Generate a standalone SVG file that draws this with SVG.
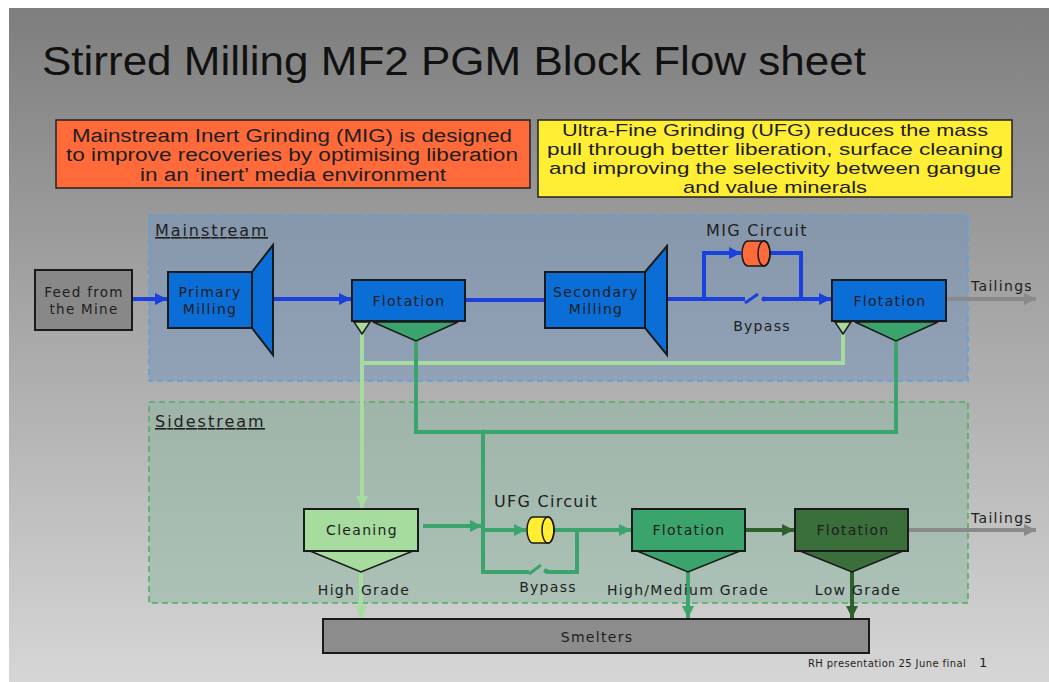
<svg xmlns="http://www.w3.org/2000/svg" width="1049" height="682" viewBox="0 0 1049 682">
<defs>
<linearGradient id="bg" x1="0" y1="0" x2="0" y2="1">
<stop offset="0" stop-color="#7e7e7e"/>
<stop offset="1" stop-color="#d6d6d6"/>
</linearGradient>
<marker id="aBlue" markerUnits="userSpaceOnUse" markerWidth="12" markerHeight="12" refX="12" refY="6" orient="auto"><path d="M0,0 L12,6 L0,12 z" fill="#1a40dd"/></marker>
<marker id="aGreen" markerUnits="userSpaceOnUse" markerWidth="12" markerHeight="12" refX="12" refY="6" orient="auto"><path d="M0,0 L12,6 L0,12 z" fill="#3aa46c"/></marker>
<marker id="aLight" markerUnits="userSpaceOnUse" markerWidth="12" markerHeight="12" refX="12" refY="6" orient="auto"><path d="M0,0 L12,6 L0,12 z" fill="#a6dc9e"/></marker>
<marker id="aDark" markerUnits="userSpaceOnUse" markerWidth="12" markerHeight="12" refX="12" refY="6" orient="auto"><path d="M0,0 L12,6 L0,12 z" fill="#2e602e"/></marker>
<marker id="aGray" markerUnits="userSpaceOnUse" markerWidth="12" markerHeight="12" refX="12" refY="6" orient="auto"><path d="M0,0 L12,6 L0,12 z" fill="#8a8a8a"/></marker>
</defs>
<style>
.t{font-family:"DejaVu Sans","Liberation Sans",sans-serif;fill:#1e1e1e;letter-spacing:1.3px;}
.c{text-anchor:middle;}
.n{font-size:14px;}
.box{stroke:#1a1a1a;stroke-width:2;}
.tri{stroke:#1a1a1a;stroke-width:1.5;}
.blue{fill:#0b6dd6;}
.fl{fill:none;stroke-width:4;}
.b{stroke:#1a40dd;}
.g{stroke:#3aa46c;}
.lg{stroke:#a6dc9e;}
.dg{stroke:#2e602e;}
.gr{stroke:#8a8a8a;}
.bt{font-family:"Liberation Sans",sans-serif;fill:#1e1e1e;text-anchor:middle;}
</style>
<rect x="9" y="8" width="1040" height="674" fill="url(#bg)"/>
<text x="42" y="75" font-family="Liberation Sans, sans-serif" font-size="40" fill="#111" textLength="824" lengthAdjust="spacingAndGlyphs">Stirred Milling MF2 PGM Block Flow sheet</text>

<g id="note-mig">
<rect x="56" y="120" width="474" height="68" fill="#ff6a3a" stroke="#222" stroke-width="1.5"/>
<text class="bt" font-size="18"><tspan x="292" y="142" textLength="440" lengthAdjust="spacingAndGlyphs">Mainstream Inert Grinding (MIG) is designed</tspan><tspan x="292" y="161" textLength="452" lengthAdjust="spacingAndGlyphs">to improve recoveries by optimising liberation</tspan><tspan x="293" y="181" textLength="306" lengthAdjust="spacingAndGlyphs">in an ‘inert’ media environment</tspan></text>
</g>
<g id="note-ufg">
<rect x="538" y="120" width="474" height="77" fill="#ffee33" stroke="#222" stroke-width="1.5"/>
<text class="bt" font-size="17"><tspan x="775" y="136" textLength="426" lengthAdjust="spacingAndGlyphs">Ultra-Fine Grinding (UFG) reduces the mass</tspan><tspan x="775" y="155" textLength="456" lengthAdjust="spacingAndGlyphs">pull through better liberation, surface cleaning</tspan><tspan x="775" y="174" textLength="452" lengthAdjust="spacingAndGlyphs">and improving the selectivity between gangue</tspan><tspan x="775" y="193" textLength="184" lengthAdjust="spacingAndGlyphs">and value minerals</tspan></text>
</g>

<g id="mainstream">
<rect x="149" y="215" width="819" height="166" fill="#7395bf" fill-opacity="0.5" stroke="#5aa0e0" stroke-width="1.5" stroke-dasharray="6,4"/>
<text class="t" x="155" y="236" font-size="16" text-decoration="underline" textLength="113">Mainstream</text>
</g>
<g id="sidestream">
<rect x="149" y="402" width="819" height="201" fill="#8bb79f" fill-opacity="0.5" stroke="#4caf60" stroke-width="1.5" stroke-dasharray="6,4"/>
<text class="t" x="155" y="427" font-size="16" text-decoration="underline" textLength="110">Sidestream</text>
</g>

<g id="connectors">
<line class="fl b" x1="133" y1="299" x2="167" y2="299" marker-end="url(#aBlue)"/>
<line class="fl b" x1="273" y1="299" x2="351" y2="299" marker-end="url(#aBlue)"/>
<line class="fl b" x1="465" y1="300" x2="545" y2="300"/>
<polyline class="fl b" points="667,299 704,299 704,253 741,253" marker-end="url(#aBlue)"/>
<polyline class="fl b" points="770,253 801,253 801,299"/>
<line class="fl b" x1="704" y1="299" x2="745" y2="299"/>
<line x1="745" y1="303" x2="758" y2="294" stroke="#1a40dd" stroke-width="3"/>
<circle cx="764" cy="299" r="2.5" fill="#1a40dd"/>
<line class="fl b" x1="764" y1="299" x2="831" y2="299" marker-end="url(#aBlue)"/>
<line class="fl gr" x1="946" y1="299" x2="1036" y2="299" marker-end="url(#aGray)"/>
<polyline class="fl lg" points="843,334 843,363 362,363"/>
<line class="fl lg" x1="362" y1="334" x2="362" y2="508" marker-end="url(#aLight)"/>
<polyline class="fl g" points="416,341 416,432 896,432 896,341"/>
<circle cx="483" cy="432" r="2.5" fill="#3aa46c"/>
<polyline class="fl g" points="483,432 483,572 529,572"/>
<line x1="529" y1="574" x2="541" y2="565" stroke="#3aa46c" stroke-width="3"/>
<circle cx="546" cy="571" r="2.5" fill="#3aa46c"/>
<polyline class="fl g" points="546,572 577,572 577,530"/>
<line class="fl g" x1="423" y1="526" x2="482" y2="526" marker-end="url(#aGreen)"/>
<line class="fl g" x1="483" y1="530" x2="526" y2="530" marker-end="url(#aGreen)"/>
<line class="fl g" x1="554" y1="530" x2="631" y2="530" marker-end="url(#aGreen)"/>
<line class="fl dg" x1="746" y1="530" x2="794" y2="530" marker-end="url(#aDark)"/>
<line class="fl gr" x1="908" y1="530" x2="1036" y2="530" marker-end="url(#aGray)"/>
<line class="fl lg" x1="361" y1="572" x2="361" y2="618" marker-end="url(#aLight)"/>
<line class="fl g" x1="688" y1="572" x2="688" y2="618" marker-end="url(#aGreen)"/>
<line class="fl dg" x1="852" y1="572" x2="852" y2="618" marker-end="url(#aDark)"/>
</g>

<g id="feed">
<rect class="box" x="35" y="270" width="97" height="60" fill="#888888"/>
<text class="t c" font-size="13.5"><tspan x="84" y="297">Feed from</tspan><tspan x="84" y="314">the Mine</tspan></text>
</g>
<g id="primary-milling">
<rect class="box blue" x="168" y="272" width="84" height="56"/>
<polygon class="box blue" points="252,272 273,245 273,355 252,328"/>
<text class="t c n"><tspan x="210" y="297">Primary</tspan><tspan x="210" y="314">Milling</tspan></text>
</g>
<g id="flotation-1">
<polygon class="tri" points="354,322 370,322 362,334" fill="#a6dc9e"/>
<polygon class="tri" points="373,322 458,322 416,341" fill="#3aa46c"/>
<rect class="box blue" x="352" y="280" width="113" height="41"/>
<text class="t c n" x="409" y="306">Flotation</text>
</g>
<g id="secondary-milling">
<rect class="box blue" x="545" y="272" width="100" height="56"/>
<polygon class="box blue" points="645,272 667,246 667,355 645,328"/>
<text class="t c n"><tspan x="596" y="297">Secondary</tspan><tspan x="596" y="314">Milling</tspan></text>
</g>
<g id="mig-circuit">
<path d="M748,241 H764 A6,12.5 0 0 1 764,266 H748 A6,12.5 0 0 1 748,241 Z" fill="#ff6a3a" stroke="#1a1a1a" stroke-width="1.5"/>
<ellipse cx="764" cy="253.5" rx="6" ry="12.5" fill="none" stroke="#1a1a1a" stroke-width="1.5"/>
<text class="t c" x="757" y="236" font-size="16">MIG Circuit</text>
<text class="t c n" x="762" y="331">Bypass</text>
</g>
<g id="flotation-2">
<polygon class="tri" points="835,322 851,322 843,334" fill="#a6dc9e"/>
<polygon class="tri" points="855,322 938,322 896,341" fill="#3aa46c"/>
<rect class="box blue" x="832" y="280" width="114" height="41"/>
<text class="t c n" x="890" y="306">Flotation</text>
<text class="t n" x="971" y="291">Tailings</text>
</g>
<g id="cleaning">
<polygon class="tri" points="310,551 413,551 361,572" fill="#a6dc9e"/>
<rect class="box" x="304" y="509" width="114" height="42" fill="#a6dc9e"/>
<text class="t c n" x="362" y="535">Cleaning</text>
<text class="t c n" x="364" y="595">High Grade</text>
</g>
<g id="ufg-circuit">
<path d="M533,517 H548 A6,13 0 0 1 548,543 H533 A6,13 0 0 1 533,517 Z" fill="#ffee33" stroke="#1a1a1a" stroke-width="1.5"/>
<ellipse cx="548" cy="530" rx="6" ry="13" fill="none" stroke="#1a1a1a" stroke-width="1.5"/>
<text class="t c" x="546" y="507" font-size="16">UFG Circuit</text>
<text class="t c n" x="548" y="592">Bypass</text>
</g>
<g id="flotation-3">
<polygon class="tri" points="637,551 740,551 688,572" fill="#3aa46c"/>
<rect class="box" x="632" y="509" width="113" height="42" fill="#3aa46c"/>
<text class="t c n" x="689" y="535">Flotation</text>
<text class="t c n" x="688" y="595">High/Medium Grade</text>
</g>
<g id="flotation-4">
<polygon class="tri" points="800,551 903,551 852,572" fill="#3a6e3a"/>
<rect class="box" x="795" y="509" width="113" height="42" fill="#3a6e3a"/>
<text class="t c n" x="853" y="535">Flotation</text>
<text class="t c n" x="858" y="595">Low Grade</text>
<text class="t n" x="971" y="523">Tailings</text>
</g>
<g id="smelters">
<rect class="box" x="323" y="619" width="546" height="34" fill="#8c8c8c"/>
<text class="t c n" x="597" y="642">Smelters</text>
</g>
<text class="t" x="808" y="667" font-size="10" textLength="159">RH presentation 25 June final</text>
<text class="t" x="979" y="667" font-size="13">1</text>
</svg>
